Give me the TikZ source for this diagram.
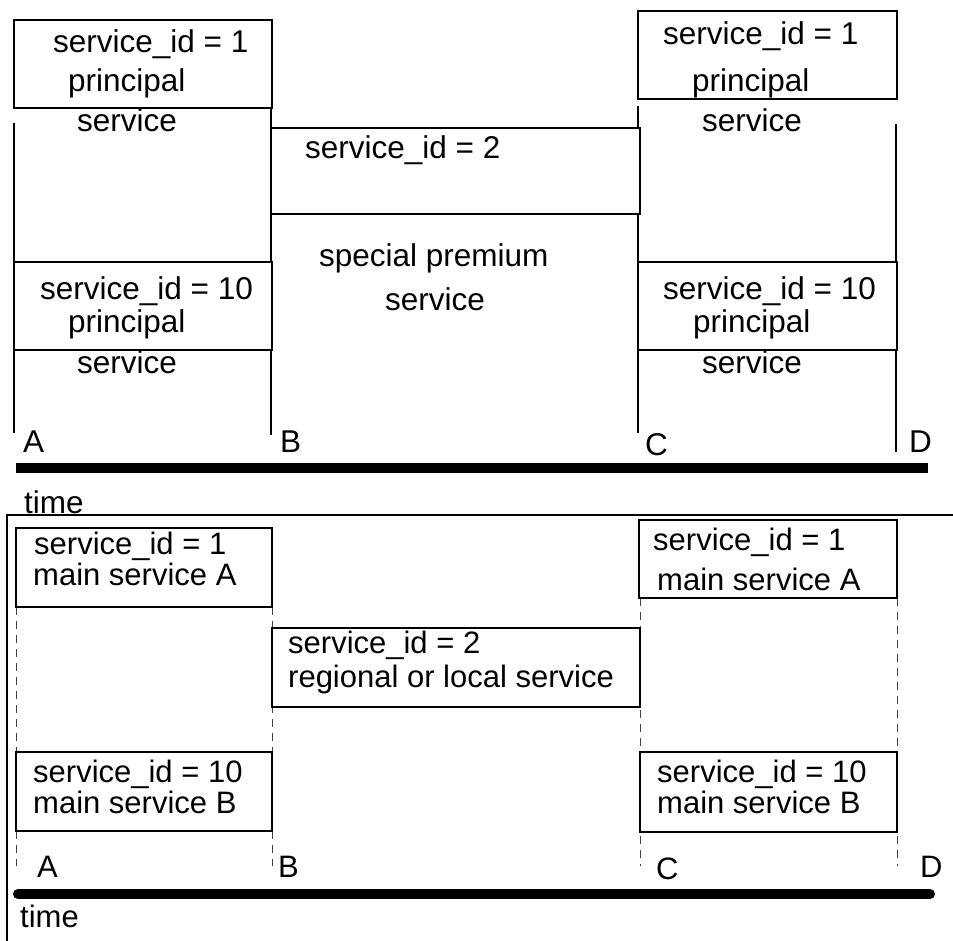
\documentclass[tikz,border=0pt]{standalone}
\usepackage{fontspec}
\setmainfont{Liberation Sans}
\begin{document}
\begin{tikzpicture}[x=1pt,y=-1pt,
  lbl/.style={anchor=base west, inner sep=0pt, font=\fontsize{31.5}{36}\selectfont},
  lblb/.style={anchor=base west, inner sep=0pt, font=\fontsize{31}{36}\selectfont},
  box/.style={draw, line width=1.8pt, fill=white},
  tline/.style={line width=1.8pt},
  dline/.style={line width=1pt, dash pattern=on 8pt off 6pt, black!75},
  bar/.style={line width=10pt}]
\useasboundingbox (0,0) rectangle (953,941);
% ---------------- upper diagram ----------------
\coordinate (a1) at (14,123);  \coordinate (a2) at (14,433);
\coordinate (b1) at (271,108); \coordinate (b2) at (271,435);
\coordinate (c1) at (638,106); \coordinate (c2) at (638,433);
\coordinate (d1) at (896,124); \coordinate (d2) at (896,452);
\draw[tline] (a1) -- (a2);
\draw[tline] (b1) -- (b2);
\draw[tline] (c1) -- (c2);
\draw[tline] (d1) -- (d2);
\draw[box] (14,20) rectangle (272,108);
\draw[box] (271,128) rectangle (640,214);
\draw[box] (638,11) rectangle (897,99);
\draw[box] (14,262) rectangle (272,350);
\draw[box] (638,262) rectangle (897,350);
\node[lbl] (u1a) at (53,53) {service\_id = 1};
\node[lbl] (u1b) at (68,92) {principal};
\node[lbl] (u1c) at (77,132) {service};
\node[lbl] (u2a) at (305,159) {service\_id = 2};
\node[lbl] (u2b) at (319,267) {special premium};
\node[lbl] (u2c) at (385,310) {service};
\node[lbl] (u3a) at (663,45) {service\_id = 1};
\node[lbl] (u3b) at (692,92) {principal};
\node[lbl] (u3c) at (702,132) {service};
\node[lbl] (u4a) at (40,300) {service\_id = 10};
\node[lbl] (u4b) at (68,332) {principal};
\node[lbl] (u4c) at (77,373) {service};
\node[lbl] (u5a) at (663,300) {service\_id = 10};
\node[lbl] (u5b) at (693,332) {principal};
\node[lbl] (u5c) at (702,373) {service};
\node[lbl] (uA) at (23,452) {A};
\node[lbl] (uB) at (280,452) {B};
\node[lbl] (uC) at (645,455) {C};
\node[lbl] (uD) at (909,452) {D};
\coordinate (ubarL) at (16,468); \coordinate (ubarR) at (928,468);
\draw[bar] (ubarL) -- (ubarR);
\node[lbl] (utime) at (24,513) {time};
% ---------------- lower diagram ----------------
\coordinate (fR) at (953,515); \coordinate (fC) at (7,515); \coordinate (fB) at (7,941);
\draw[tline] (fR) -- (fC) -- (fB);
\coordinate (la1) at (16,607);  \coordinate (la2) at (16,866);
\coordinate (lb1) at (272,607); \coordinate (lb2) at (272,866);
\coordinate (lc1) at (640,598); \coordinate (lc2) at (640,866);
\coordinate (ld1) at (897,598); \coordinate (ld2) at (897,866);
\draw[dline] (la1) -- (la2);
\draw[dline] (lb1) -- (lb2);
\draw[dline] (lc1) -- (lc2);
\draw[dline] (ld1) -- (ld2);
\draw[box] (16,528) rectangle (272,607);
\draw[box] (639,520) rectangle (897,598);
\draw[box] (272,628) rectangle (640,707);
\draw[box] (16,752) rectangle (272,831);
\draw[box] (640,752) rectangle (897,832);
\node[lblb] (l1a) at (34,554) {service\_id = 1};
\node[lblb] (l1b) at (33,585) {main service A};
\node[lblb] (l2a) at (653,550) {service\_id = 1};
\node[lblb] (l2b) at (657,590) {main service A};
\node[lblb] (l3a) at (288,653) {service\_id = 2};
\node[lblb] (l3b) at (288,687) {regional or local service};
\node[lblb] (l4a) at (33,782) {service\_id = 10};
\node[lblb] (l4b) at (33,813) {main service B};
\node[lblb] (l5a) at (657,782) {service\_id = 10};
\node[lblb] (l5b) at (657,813) {main service B};
\node[lblb] (lA) at (37,877) {A};
\node[lblb] (lB) at (278,877) {B};
\node[lblb] (lC) at (656,879) {C};
\node[lblb] (lD) at (920,877) {D};
\coordinate (lbarL) at (18,894); \coordinate (lbarR) at (930,894);
\draw[bar, line cap=round] (lbarL) -- (lbarR);
\node[lblb] (ltime) at (20,927) {time};
\end{tikzpicture}
\end{document}
